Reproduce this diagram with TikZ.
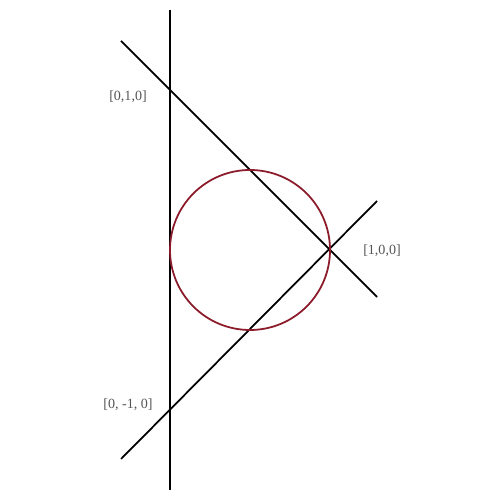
\documentclass[tikz,border=0pt]{standalone}
\usepackage{fontspec}
\setmainfont{Liberation Serif}
\usepackage{tikz}
\usetikzlibrary{positioning,calc}
\definecolor{circred}{HTML}{8B1A2B}
\definecolor{lblgray}{HTML}{555555}
\tikzset{
  ln/.style={draw=black, line width=1pt},
  circ/.style={draw=circred, line width=1pt},
  lbl/.style={text=lblgray, font=\fontsize{8}{9}\selectfont, inner sep=1pt},
}

\begin{document}
\begin{tikzpicture}
        \useasboundingbox (0,0) rectangle (10,10);
        \coordinate (vtop) at (3.4,9.8);
        \coordinate (vbot) at (3.4,0.2);
        \coordinate (atop) at (2.42,9.18);
        \coordinate (abot) at (7.54,4.06);
        \coordinate (blow) at (2.42,0.82);
        \coordinate (bhigh) at (7.54,5.98);
        \coordinate (ctr) at (5,5);
        \draw[ln] (vtop) -- (vbot);
        \draw[ln] (atop) -- (abot);
        \draw[ln] (blow) -- (bhigh);
        \draw[circ] (ctr) circle (1.6);
        \node[lbl] (p010) at (2.56,8.06) {[0,1,0]};
        \node[lbl] (p100) at (7.64,4.98) {[1,0,0]};
        \node[lbl] (p0m10) at (2.56,1.9) {[0, -1, 0]};
      \end{tikzpicture}
\end{document}
